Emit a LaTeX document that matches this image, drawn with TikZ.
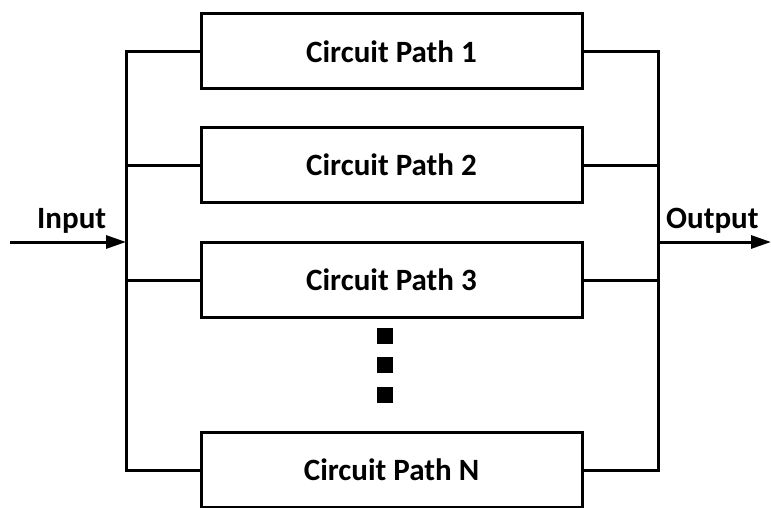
\documentclass[tikz,border=0pt]{standalone}
\usepackage{fontspec}
\setmainfont{Carlito}
\usetikzlibrary{arrows.meta}
\begin{document}
\begin{tikzpicture}[x=1pt,y=-1pt,
  wire/.style={line width=3pt},
  pathbox/.style={draw,line width=3pt,minimum width=381pt,minimum height=75pt,inner sep=0pt,
    font=\fontsize{31}{35}\selectfont\bfseries},
  lbl/.style={font=\fontsize{31}{35}\selectfont\bfseries,inner sep=0pt},
  dotsq/.style={fill=black,minimum size=16pt,inner sep=0pt},
  arr/.style={wire,-{Triangle[length=20pt,width=13pt]}}]
\useasboundingbox (0,0) rectangle (771,508);
% parallel circuit paths
\node[pathbox] (p1) at (391.5,51.5) {Circuit Path 1};
\node[pathbox] (p2) at (391.5,165) {Circuit Path 2};
\node[pathbox] (p3) at (391.5,280) {Circuit Path 3};
\node[pathbox] (pn) at (391.5,470) {Circuit Path N};
% ellipsis between path 3 and path N
\node[dotsq] (d1) at (385,336) {};
\node[dotsq] (d2) at (385,365) {};
\node[dotsq] (d3) at (385,395) {};
% bus junctions
\coordinate (lt) at (126,51.5);
\coordinate (lb) at (126,470);
\coordinate (lin) at (126,242);
\coordinate (rt) at (658,51.5);
\coordinate (rb) at (658,470);
\coordinate (rout) at (658,242);
\coordinate (src) at (10,242);
\coordinate (dst) at (771,242);
% input bus
\draw[wire] (p1.west) -- (lt) -- (lb) -- (pn.west);
\draw[wire] (p2.west) -- (p2.west -| lt);
\draw[wire] (p3.west) -- (p3.west -| lt);
% output bus
\draw[wire] (p1.east) -- (rt) -- (rb) -- (pn.east);
\draw[wire] (p2.east) -- (p2.east -| rt);
\draw[wire] (p3.east) -- (p3.east -| rt);
% input and output arrows
\draw[arr] (src) -- (lin);
\draw[arr] (rout) -- (dst);
\node[lbl,anchor=base west] (inlbl) at (37,228) {Input};
\node[lbl,anchor=base west] (outlbl) at (666,228) {Output};
\end{tikzpicture}
\end{document}
